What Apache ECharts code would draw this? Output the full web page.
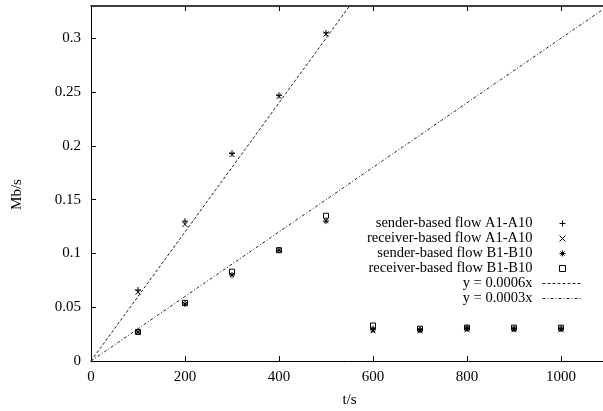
<!DOCTYPE html>
<html><head><meta charset="utf-8">
<script src="https://cdn.jsdelivr.net/npm/echarts@6/dist/echarts.min.js"></script>
<style>html,body{margin:0;padding:0;background:#fff}#c{width:603px;height:411px}</style>
</head><body><div id="c"></div>
<script>
var times = [100, 200, 300, 400, 500, 600, 700, 800, 900, 1000];
var senderA   = [0.066, 0.130, 0.193, 0.247, 0.305, 0.030, 0.029, 0.030, 0.030, 0.030];
var receiverA = [0.064, 0.127, 0.192, 0.246, 0.304, 0.028, 0.028, 0.029, 0.029, 0.029];
var senderB   = [0.027, 0.053, 0.080, 0.103, 0.130, 0.029, 0.029, 0.031, 0.030, 0.030];
var receiverB = [0.027, 0.054, 0.083, 0.103, 0.135, 0.033, 0.030, 0.031, 0.031, 0.031];
var seriesNames = ['sender-based flow A1-A10', 'receiver-based flow A1-A10', 'sender-based flow B1-B10', 'receiver-based flow B1-B10'];
var fitSlopes = [0.0006, 0.0003];
var fitNames = ['y = 0.0006x', 'y = 0.0003x'];
var xMax = 1100, yMax = 0.33;

function pairs(v) { return times.map(function (t, i) { return [t, v[i]]; }); }
var FONT = 'Liberation Serif';
var FS = 15;
var symbols = [
  'path://M0,5L10,5M5,0L5,10',
  'path://M0,0L10,10M10,0L0,10',
  'path://M0,5L10,5M5,0L5,10M1.5,1.5L8.5,8.5M8.5,1.5L1.5,8.5',
  'path://M0,0L10,0L10,10L0,10Z'
];
var symSizes = [6, 5, 6, 5];
var values = [senderA, receiverA, senderB, receiverB];
var series = values.map(function (v, i) {
  return {
    name: seriesNames[i], type: 'scatter', data: pairs(v),
    symbol: symbols[i], symbolSize: symSizes[i],
    itemStyle: { color: 'rgba(0,0,0,0)', borderColor: '#000', borderWidth: 1, opacity: 1 },
    emphasis: { disabled: true }, z: 3
  };
});
var dashes = [[3, 2], [3, 2, 1, 2]];
fitSlopes.forEach(function (s, i) {
  series.push({
    name: fitNames[i], type: 'line', showSymbol: false, symbol: 'none',
    xAxisIndex: i, yAxisIndex: 0,
    data: [[0, 0], [xMax, s * xMax]], clip: true,
    lineStyle: { color: '#222', width: 1, type: dashes[i] },
    itemStyle: { color: 'rgba(0,0,0,0)', borderColor: 'rgba(0,0,0,0)' },
    emphasis: { disabled: true }, z: 2
  });
});
var hidden = { color: 'rgba(0,0,0,0)', borderColor: 'rgba(0,0,0,0)', borderWidth: 0 };
var legendData = seriesNames.map(function (n) { return { name: n }; })
  .concat(fitNames.map(function (n) { return { name: n, itemStyle: hidden }; }));

var chart = echarts.init(document.getElementById('c'), null, { renderer: 'canvas' });
chart.setOption({
  animation: false,
  backgroundColor: '#fff',
  grid: { left: 91, right: -5, top: 6, bottom: 50, containLabel: false, outerBoundsMode: 'none' },
  legend: {
    data: legendData,
    orient: 'vertical', align: 'right', right: 20, top: 216, padding: 0,
    itemWidth: 40, itemHeight: 6, itemGap: 0,
    textStyle: { fontFamily: FONT, fontSize: 14.5, color: '#000', lineHeight: 15, padding: [0, 5, 0, 0] },
    itemStyle: { borderWidth: 1 },
    lineStyle: { width: 1 },
    selectedMode: false
  },
  xAxis: [{
    type: 'value', position: 'bottom', min: 0, max: xMax, interval: 200,
    name: 't/s', nameLocation: 'middle', nameGap: 32,
    nameTextStyle: { fontFamily: FONT, fontSize: FS, color: '#000' },
    axisLine: { show: true, onZero: false, lineStyle: { color: '#000', width: 1 } },
    axisTick: { show: true, inside: true, length: 5, lineStyle: { color: '#000' } },
    axisLabel: { fontFamily: FONT, fontSize: FS, color: '#000', margin: 9, showMaxLabel: false,
      formatter: function (v) { return String(v); } },
    splitLine: { show: false }
  }, {
    type: 'value', position: 'top', show: true, gridIndex: 0, min: 0, max: xMax, interval: 200,
    axisLine: { show: true, onZero: false, lineStyle: { color: '#000', width: 1.5 } },
    axisTick: { show: true, inside: true, length: 5, lineStyle: { color: '#000', width: 1 } },
    axisLabel: { show: false }, splitLine: { show: false }
  }],
  yAxis: [{
    type: 'value', min: 0, max: yMax, interval: 0.05,
    name: 'Mb/s', nameLocation: 'middle', nameGap: 66,
    nameTextStyle: { fontFamily: FONT, fontSize: FS, color: '#000', padding: [0, 22, 0, 0] },
    axisLine: { show: true, onZero: false, lineStyle: { color: '#000', width: 1 } },
    axisTick: { show: true, inside: true, length: 5, lineStyle: { color: '#000' } },
    axisLabel: { fontFamily: FONT, fontSize: FS, color: '#000', margin: 10, showMaxLabel: false },
    splitLine: { show: false }
  }],
  series: series
});
</script></body></html>
